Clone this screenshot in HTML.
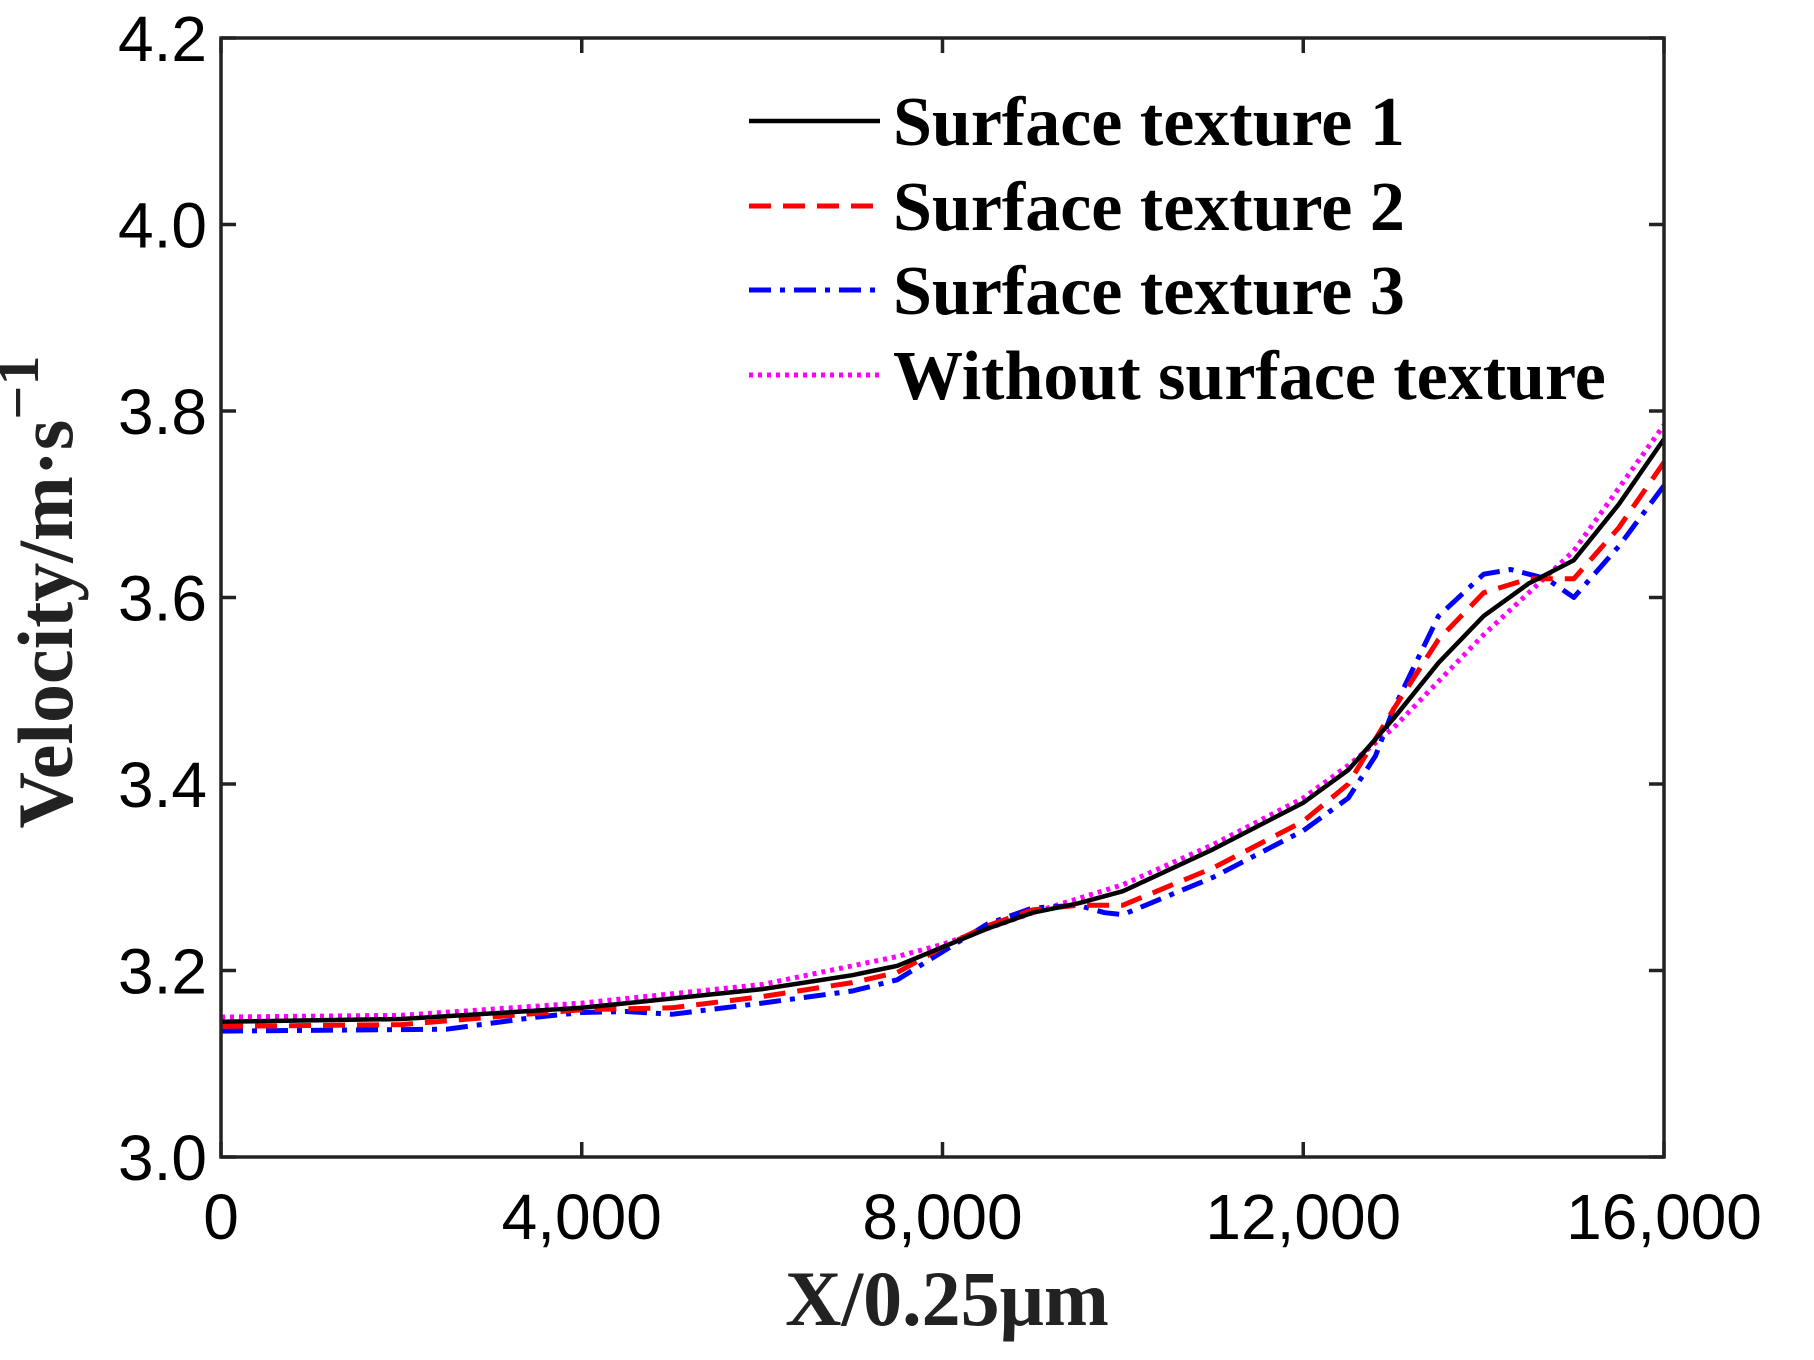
<!DOCTYPE html>
<html><head><meta charset="utf-8"><style>
html,body{margin:0;padding:0;background:#fff;}
svg{display:block}
.tick{font-family:"Liberation Sans",sans-serif;font-size:64px;fill:#000}
.ttl{font-family:"Liberation Serif",serif;font-weight:bold;font-size:78px;fill:#222}
.leg{font-family:"Liberation Serif",serif;font-weight:bold;font-size:70px;fill:#000}
</style></head><body>
<svg id="chart" width="1814" height="1360" viewBox="0 0 1814 1360">
<g id="plot"></g>
<rect x="221" y="38" width="1443" height="1119" fill="none" stroke="#222" stroke-width="3.5"/>
<g id="axes"></g>
<text class="ttl" x="947" y="1325" text-anchor="middle">X/0.25μm</text>
<text class="ttl" transform="translate(72,592) rotate(-90)" text-anchor="middle">Velocity/m·s<tspan dy="-34" font-size="60">−1</tspan></text>
<g id="legend">
<line x1="749" y1="121" x2="880" y2="121" stroke="#000" stroke-width="4.5"/>
<text class="leg" x="893" y="145">Surface texture 1</text>
<line x1="749" y1="206" x2="880" y2="206" stroke="#f00" stroke-width="5" stroke-dasharray="22,12"/>
<text class="leg" x="893" y="230">Surface texture 2</text>
<line x1="749" y1="290" x2="880" y2="290" stroke="#00f" stroke-width="5" stroke-dasharray="22,9,5,9"/>
<text class="leg" x="893" y="314">Surface texture 3</text>
<line x1="749" y1="375" x2="880" y2="375" stroke="#f0f" stroke-width="5" stroke-dasharray="4,5"/>
<text class="leg" x="893" y="399">Without surface texture</text>
</g>
</svg>
<script>
const xTicks=[0,4000,8000,12000,16000];
const xTickLabels=["0","4,000","8,000","12,000","16,000"];
const yTicks=[3.0,3.2,3.4,3.6,3.8,4.0,4.2];
const yTickLabels=["3.0","3.2","3.4","3.6","3.8","4.0","4.2"];
const s1x=[0,2000,4000,5000,6000,7000,7500,8000,8500,9000,9500,10000,11000,12000,12500,13000,13500,14000,14500,15000,15500,16000];
const s1y=[3.145,3.148,3.16,3.17,3.18,3.195,3.205,3.225,3.245,3.262,3.272,3.285,3.33,3.38,3.415,3.47,3.53,3.58,3.615,3.64,3.70,3.77];
const s2x=[0,2000,3000,4000,5000,6000,7000,7500,8000,8500,9000,9500,10000,11000,12000,12500,13000,13500,14000,14500,15000,15500,16000];
const s2y=[3.14,3.142,3.15,3.158,3.16,3.172,3.187,3.198,3.225,3.248,3.265,3.27,3.27,3.31,3.36,3.40,3.48,3.555,3.605,3.62,3.62,3.675,3.745];
const s3x=[0,2500,3500,4000,4500,5000,6000,7000,7500,8000,8500,9000,9500,9800,10000,11000,12000,12500,12800,13000,13500,14000,14300,14700,15000,15500,16000];
const s3y=[3.135,3.137,3.15,3.155,3.156,3.153,3.165,3.178,3.19,3.22,3.25,3.267,3.27,3.262,3.26,3.30,3.35,3.385,3.43,3.48,3.58,3.625,3.63,3.62,3.60,3.655,3.72];
const s4x=[0,2000,4000,6000,7500,8000,9000,10000,11000,12000,12500,13000,14000,15000,16000];
const s4y=[3.15,3.152,3.165,3.185,3.215,3.228,3.262,3.292,3.335,3.385,3.42,3.46,3.56,3.65,3.785];
const L=221,R=1664,T=38,B=1157;
const X=v=>L+(v-0)/16000*(R-L);
const Y=v=>B-(v-3.0)/1.2*(B-T);
const NS="http://www.w3.org/2000/svg";
const plot=document.getElementById('plot'),axes=document.getElementById('axes');
function series(xs,ys,color,dash,name,w){
  const p=document.createElementNS(NS,'path');
  p.setAttribute('d',xs.map((x,i)=>(i?'L':'M')+X(x).toFixed(1)+','+Y(ys[i]).toFixed(1)).join(''));
  p.setAttribute('fill','none');p.setAttribute('stroke',color);p.setAttribute('stroke-width',w);
  p.setAttribute('stroke-linejoin','round');
  if(dash)p.setAttribute('stroke-dasharray',dash);
  
  
  plot.appendChild(p);
}
series(s4x,s4y,'#f0f','4,5','series-without-texture',5);
series(s3x,s3y,'#00f','22,9,5,9','series-texture-3',5);
series(s2x,s2y,'#f00','22,12','series-texture-2',5);
series(s1x,s1y,'#000',null,'series-texture-1',4.5);
function ln(x1,y1,x2,y2){const l=document.createElementNS(NS,'line');l.setAttribute('x1',x1);l.setAttribute('y1',y1);l.setAttribute('x2',x2);l.setAttribute('y2',y2);l.setAttribute('stroke','#222');l.setAttribute('stroke-width',3.5);
  
  
  axes.appendChild(l);}
function tx(x,y,s,anchor,name){const t=document.createElementNS(NS,'text');t.setAttribute('x',x);t.setAttribute('y',y);t.setAttribute('class','tick');t.setAttribute('text-anchor',anchor);t.textContent=s;
  
  
  axes.appendChild(t);}
xTicks.forEach((v,i)=>{const x=X(v);ln(x,B,x,B-15);ln(x,T,x,T+15);tx(x,B+82,xTickLabels[i],'middle','x-tick-label');});
yTicks.forEach((v,i)=>{const y=Y(v);ln(L,y,L+15,y);ln(R,y,R-15,y);tx(L-14,y+23,yTickLabels[i],'end','y-tick-label');});
</script>
</body></html>
